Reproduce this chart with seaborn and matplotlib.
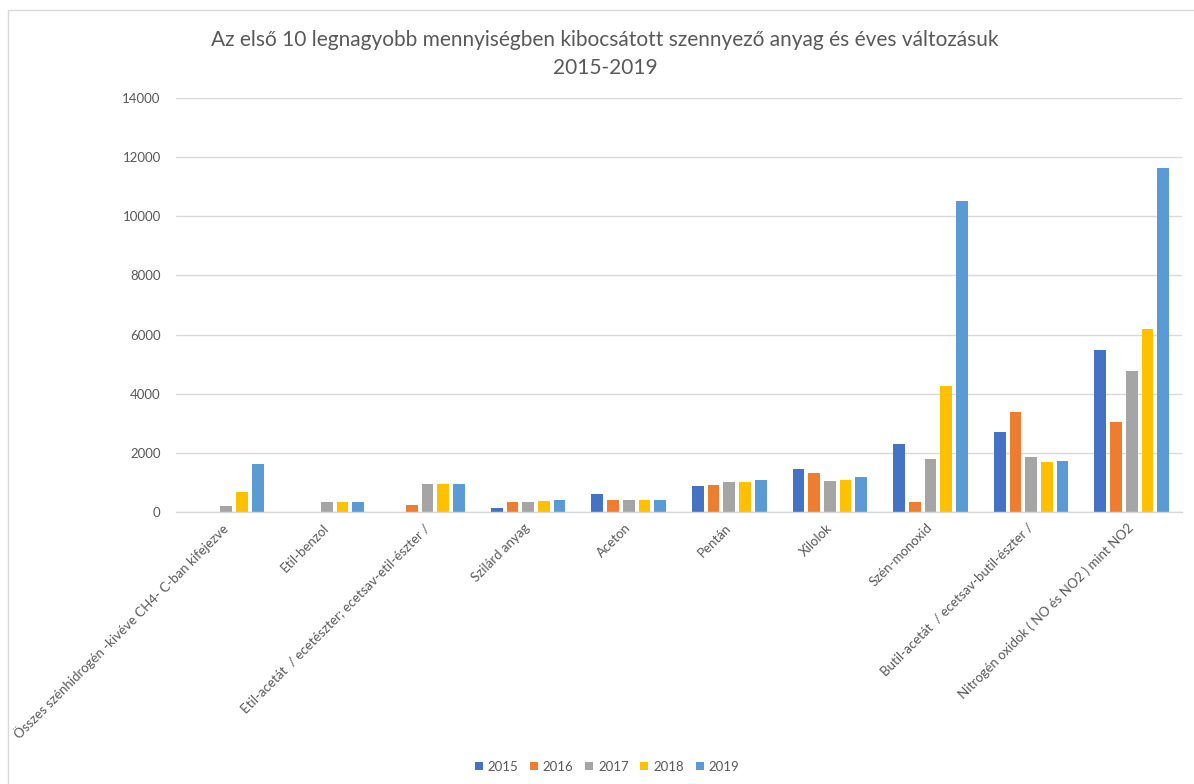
import matplotlib
matplotlib.use("Agg")
import matplotlib.pyplot as plt
import seaborn as sns
import pandas as pd
from matplotlib.lines import Line2D

categories = [
    "Összes szénhidrogén -kivéve CH4- C-ban kifejezve",
    "Etil-benzol",
    "Etil-acetát  / ecetészter; ecetsav-etil-észter /",
    "Szilárd anyag",
    "Aceton",
    "Pentán",
    "Xilolok",
    "Szén-monoxid",
    "Butil-acetát  / ecetsav-butil-észter /",
    "Nitrogén oxidok ( NO és NO2 ) mint NO2",
]
years = ["2015", "2016", "2017", "2018", "2019"]
v2015 = [0, 0, 0, 135, 608, 880, 1443, 2310, 2706, 5480]
v2016 = [0, 0, 237, 348, 406, 913, 1308, 328, 3393, 3044]
v2017 = [213, 328, 936, 348, 406, 1014, 1048, 1781, 1860, 4769]
v2018 = [666, 325, 936, 372, 406, 1014, 1082, 4272, 1680, 6190]
v2019 = [1613, 348, 936, 406, 406, 1093, 1172, 10528, 1736, 11634]
colors = ["#4472C4", "#ED7D31", "#A5A5A5", "#FFC000", "#5B9BD5"]

series = [v2015, v2016, v2017, v2018, v2019]
rows = []
for y, vals in zip(years, series):
    for c, v in zip(categories, vals):
        rows.append({"cat": c, "year": y, "val": v})
df = pd.DataFrame(rows)

sns.set_theme(style="white")
plt.rcParams["font.family"] = ["Lato", "DejaVu Sans"]
txt = "#595959"

fig = plt.figure(figsize=(11.94, 7.84), dpi=100)
W, H = 1194, 784
ax = fig.add_axes([176 / W, 1 - 512 / H, (1182 - 176) / W, (512 - 98) / H])

sns.barplot(data=df, x="cat", y="val", hue="year", order=categories,
            hue_order=years, palette=colors, width=0.78, gap=0.25,
            linewidth=0, saturation=1, ax=ax, legend=False)

ax.set_ylim(0, 14000)
ax.set_xlim(-0.5, len(categories) - 0.5)
ax.set_yticks(range(0, 14001, 2000))
ax.yaxis.grid(True, color="#D9D9D9", linewidth=1.0)
ax.set_axisbelow(True)
for s in ["top", "right", "left"]:
    ax.spines[s].set_visible(False)
ax.spines["bottom"].set_color("#D9D9D9")
ax.spines["bottom"].set_linewidth(1.0)
ax.set_xlabel("")
ax.set_ylabel("")
ax.tick_params(axis="y", length=0, pad=11, labelsize=9.5, labelcolor=txt)
ax.tick_params(axis="x", length=0, pad=10, labelsize=9.5, labelcolor=txt)
ax.set_xticks(range(len(categories)))
ax.set_xticklabels(categories, rotation=45, ha="right", va="center",
                   rotation_mode="anchor")

fig.text(605 / W, 1 - 40 / H, "Az első 10 legnagyobb mennyiségben kibocsátott szennyező anyag és éves változásuk",
         ha="center", va="center", fontsize=15, color=txt)
fig.text(605 / W, 1 - 68 / H, "2015-2019", ha="center", va="center",
         fontsize=15, color=txt)

handles = [Line2D([0], [0], marker="s", linestyle="none", markersize=6,
                  markerfacecolor=c, markeredgewidth=0) for c in colors]
fig.legend(handles, years, loc="center", bbox_to_anchor=(607 / W, 1 - 767 / H),
           ncol=5, frameon=False, fontsize=9.5, handlelength=0.6,
           handletextpad=0.35, columnspacing=0.9, labelcolor=txt)

# chart area border (left and top visible)
fig.add_artist(Line2D([8 / W, 8 / W], [0, 1 - 10 / H], transform=fig.transFigure,
                      color="#D9D9D9", linewidth=1.0))
fig.add_artist(Line2D([8 / W, 1], [1 - 10 / H, 1 - 10 / H], transform=fig.transFigure,
                      color="#D9D9D9", linewidth=1.0))

fig.savefig("out.png", dpi=100)
